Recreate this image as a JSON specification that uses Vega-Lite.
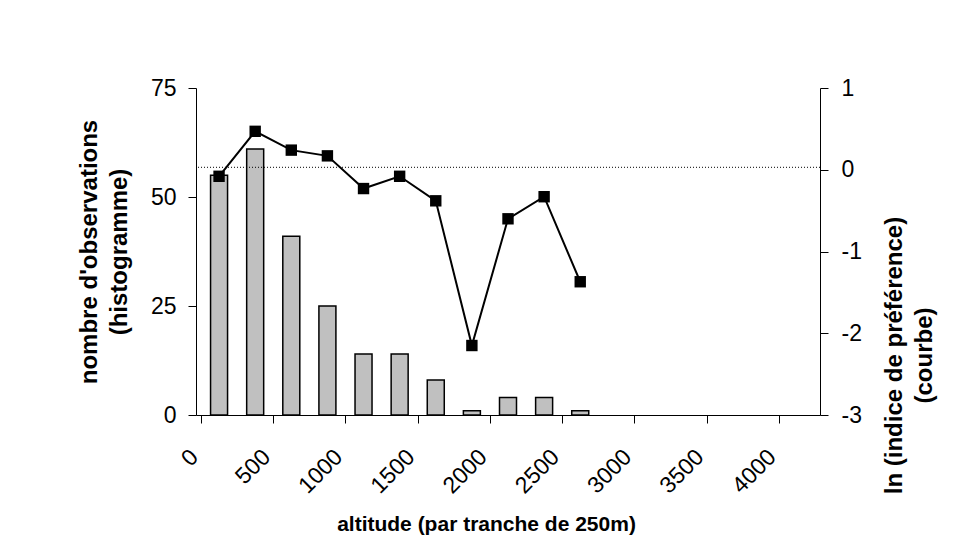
{
  "$schema": "https://vega.github.io/schema/vega-lite/v6.json",
  "width": 624,
  "height": 327,
  "autosize": {"type": "none"},
  "padding": {"left": 196, "top": 88, "right": 152, "bottom": 128},
  "background": "white",
  "config": {
    "view": {"stroke": null},
    "font": "Liberation Sans",
    "axis": {
      "domainColor": "black",
      "domainWidth": 1,
      "tickColor": "black",
      "tickWidth": 1,
      "tickSize": 8,
      "grid": false,
      "labelColor": "black",
      "labelFontSize": 23,
      "labelFont": "Liberation Sans",
      "titleColor": "black",
      "titleFont": "Liberation Sans",
      "titleFontSize": 21,
      "titleFontWeight": "bold",
      "titleLineHeight": 30,
      "labelOverlap": false,
      "labelFlush": false
    }
  },
  "data": {
    "values": [
      {"altitude": 125, "observations": 55, "ln_pref": -0.08},
      {"altitude": 375, "observations": 61, "ln_pref": 0.47},
      {"altitude": 625, "observations": 41, "ln_pref": 0.24},
      {"altitude": 875, "observations": 25, "ln_pref": 0.17},
      {"altitude": 1125, "observations": 14, "ln_pref": -0.23},
      {"altitude": 1375, "observations": 14, "ln_pref": -0.08},
      {"altitude": 1625, "observations": 8, "ln_pref": -0.38},
      {"altitude": 1875, "observations": 1, "ln_pref": -2.15},
      {"altitude": 2125, "observations": 4, "ln_pref": -0.6},
      {"altitude": 2375, "observations": 4, "ln_pref": -0.33},
      {"altitude": 2625, "observations": 1, "ln_pref": -1.37}
    ]
  },
  "layer": [
    {
      "mark": {"type": "bar", "size": 17, "fill": "#C0C0C0", "stroke": "black", "strokeWidth": 1.5},
      "encoding": {
        "x": {
          "field": "altitude",
          "type": "quantitative",
          "scale": {"domain": [0, 4250], "nice": false, "zero": true},
          "axis": {
            "values": [0, 250, 500, 750, 1000, 1250, 1500, 1750, 2000, 2250, 2500, 2750, 3000, 3250, 3500, 3750, 4000, 4250],
            "labelExpr": "datum.value % 500 === 0 ? '' + datum.value : ''",
            "labelAngle": -45,
            "labelAlign": "right",
            "labelBaseline": "middle",
            "labelPadding": 30,
            "labelOffset": -7,
            "title": "altitude (par tranche de 250m)",
            "titleX": 290,
            "titleY": 115,
            "titleBaseline": "alphabetic"
          }
        },
        "y": {
          "field": "observations",
          "type": "quantitative",
          "scale": {"domain": [0, 75], "nice": false},
          "axis": {
            "orient": "left",
            "values": [0, 25, 50, 75],
            "labelPadding": 12,
            "title": ["nombre d'observations", "(histogramme)"],
            "titleFontSize": 24,
            "titleBaseline": "bottom",
            "titleX": -95
          }
        }
      }
    },
    {
      "data": {"values": [{"reference": 0.03}]},
      "mark": {"type": "rule", "color": "black", "strokeWidth": 1, "strokeDash": [1, 2]},
      "encoding": {
        "y": {"field": "reference", "type": "quantitative", "scale": {"domain": [-3, 1], "nice": false}, "axis": null}
      }
    },
    {
      "mark": {"type": "line", "color": "black", "strokeWidth": 2,
        "point": {"shape": "square", "size": 130, "filled": true, "color": "black", "opacity": 1}},
      "encoding": {
        "x": {"field": "altitude", "type": "quantitative"},
        "y": {
          "field": "ln_pref",
          "type": "quantitative",
          "scale": {"domain": [-3, 1], "nice": false, "zero": false},
          "axis": {
            "orient": "right",
            "values": [-3, -2, -1, 0, 1],
            "labelExpr": "'' + datum.value",
            "labelPadding": 13,
            "title": ["ln (indice de préférence)", "(courbe)"],
            "titleFontSize": 24,
            "titleAngle": 270,
            "titleBaseline": "top",
            "titleY": 267,
            "titleX": 62
          }
        }
      }
    }
  ],
  "resolve": {"scale": {"y": "independent"}}
}
